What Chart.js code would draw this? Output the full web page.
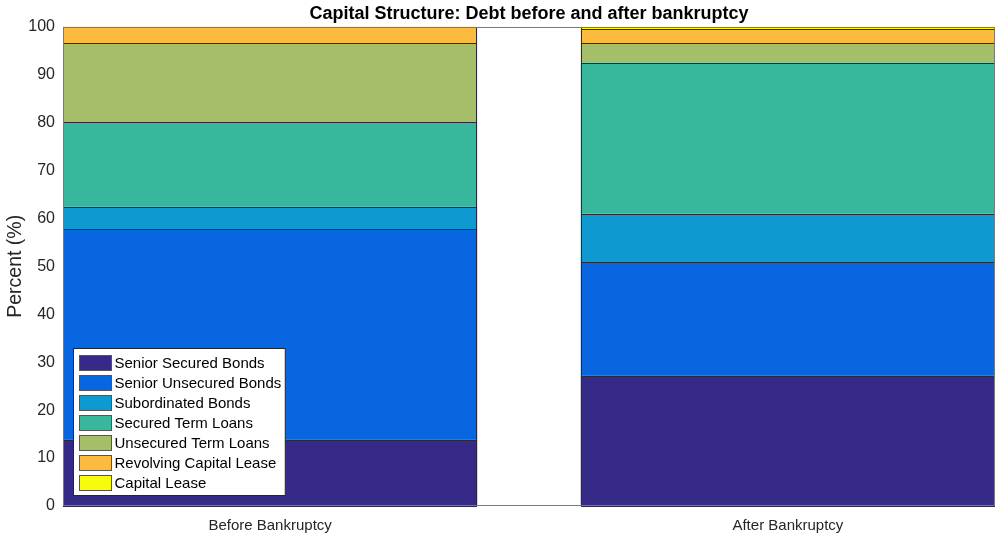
<!DOCTYPE html>
<html>
<head>
<meta charset="utf-8">
<script src="https://cdn.jsdelivr.net/npm/chart.js@4"></script>
<style>
  html, body { margin: 0; padding: 0; background: #fff; }
  #wrap { width: 997px; height: 536px; }
</style>
</head>
<body>
<div id="wrap"><canvas id="debtChart"></canvas></div>
<script>
  // capital structure, % of total debt, before vs after bankruptcy
  const periods = ["Before Bankruptcy", "After Bankruptcy"];
  const debtTypes = [
    "Senior Secured Bonds",
    "Senior Unsecured Bonds",
    "Subordinated Bonds",
    "Secured Term Loans",
    "Unsecured Term Loans",
    "Revolving Capital Lease",
    "Capital Lease",
  ];
  const seniorSecured   = [13.8, 27.2];
  const seniorUnsecured = [44.0, 23.6];
  const subordinated    = [4.6, 10.2];
  const securedTerm     = [17.7, 31.5];
  const unsecuredTerm   = [16.4, 4.0];
  const revolvingLease  = [3.5, 3.0];
  const capitalLease    = [0.0, 0.5];
  const yTicks = [0, 10, 20, 30, 40, 50, 60, 70, 80, 90, 100];

  const seriesValues = [seniorSecured, seniorUnsecured, subordinated, securedTerm,
    unsecuredTerm, revolvingLease, capitalLease];
  const colors = ["#352a87", "#0866e0", "#0f99d1", "#37b89d", "#a5be6a", "#fbbb3e", "#f9fb0e"];

  const FONT = "'Liberation Sans', Arial, Helvetica, sans-serif";
  const AXIS_COLOR = "#7a7a7a";
  const TEXT_COLOR = "#262626";
  const EDGE_COLOR = "#2a2a3c";

  // crisp 1px outline round every stacked segment (pixel-snapped, so joins look even)
  const segmentEdges = {
    id: "segmentEdges",
    afterDatasetsDraw(chart) {
      const { ctx } = chart;
      ctx.save();
      ctx.strokeStyle = EDGE_COLOR;
      ctx.lineWidth = 1;
      chart.data.datasets.forEach((ds, i) => {
        chart.getDatasetMeta(i).data.forEach((bar) => {
          const { x, y, base, width } = bar.getProps(["x", "y", "base", "width"], true);
          if (Math.abs(base - y) < 0.5) return;
          const left = Math.round(x - width / 2) + 0.5;
          const top = Math.round(y) + 0.5;
          ctx.strokeRect(left, top, Math.round(width) - 1, Math.round(base) - Math.round(y));
        });
      });
      ctx.restore();
    },
  };

  // box round the axes, like a closed plot frame
  const boxPlugin = {
    id: "axesBox",
    afterDatasetsDraw(chart) {
      const { ctx, chartArea: a } = chart;
      ctx.save();
      ctx.strokeStyle = AXIS_COLOR;
      ctx.lineWidth = 1;
      ctx.strokeRect(Math.round(a.left) + 0.5, Math.round(a.top) + 0.5,
        Math.round(a.right - a.left) - 1, Math.round(a.bottom - a.top) - 1);
      ctx.restore();
    },
  };

  // legend box sitting inside the lower left corner of the plot
  const insideLegend = {
    id: "insideLegend",
    afterDraw(chart) {
      const { ctx, chartArea: a } = chart;
      const rowH = 20, swW = 32, swH = 15, padX = 6, padY = 6, gap = 3;
      ctx.save();
      ctx.font = "15px " + FONT;
      const textW = Math.max(...debtTypes.map((t) => ctx.measureText(t).width));
      const boxW = padX + swW + gap + textW + 4;
      const boxH = padY * 2 + rowH * debtTypes.length - 5;
      const x0 = Math.round(a.left + 10) + 0.5;
      const y0 = Math.round(a.bottom - 11 - boxH) + 0.5;
      ctx.fillStyle = "#fff";
      ctx.fillRect(x0, y0, boxW, boxH);
      ctx.strokeStyle = "#262626";
      ctx.lineWidth = 1;
      ctx.strokeRect(x0, y0, boxW, boxH);
      ctx.textBaseline = "middle";
      debtTypes.forEach((name, i) => {
        const sy = Math.round(y0 + padY + i * rowH);
        ctx.fillStyle = colors[i];
        ctx.fillRect(x0 + padX, sy, swW, swH);
        ctx.strokeStyle = "#555";
        ctx.strokeRect(x0 + padX, sy + 0.5, swW, swH);
        ctx.fillStyle = "#000";
        ctx.fillText(name, x0 + padX + swW + gap, sy + swH / 2 + 1);
      });
      ctx.restore();
    },
  };

  const datasets = debtTypes.map((name, i) => ({
    label: name,
    data: seriesValues[i].map((v, j) => ({ x: j + 1, y: v })),
    backgroundColor: colors[i],
    borderWidth: 0,
    categoryPercentage: 1,
    barPercentage: 0.8,
  }));

  new Chart(document.getElementById("debtChart"), {
    type: "bar",
    data: { datasets },
    plugins: [segmentEdges, boxPlugin, insideLegend],
    options: {
      responsive: true,
      maintainAspectRatio: false,
      animation: false,
      layout: { padding: { left: 0, right: 2, top: 0, bottom: 0 } },
      scales: {
        x: {
          type: "linear",
          stacked: true,
          offset: false,
          min: 0.6,
          max: 2.4,
          grid: { display: false },
          border: { display: false },
          afterBuildTicks: (scale) => { scale.ticks = periods.map((p, i) => ({ value: i + 1 })); },
          afterFit: (scale) => { scale.height = 30; },
          ticks: {
            padding: 3,
            color: TEXT_COLOR,
            font: { family: FONT, size: 15 },
            callback: (v) => periods[Math.round(v) - 1] || "",
          },
        },
        y: {
          stacked: true,
          min: 0,
          max: 100,
          grid: { display: false },
          border: { display: false },
          afterBuildTicks: (scale) => { scale.ticks = yTicks.map((v) => ({ value: v })); },
          afterFit: (scale) => { scale.width = 63; },
          ticks: {
            padding: 0,
            color: TEXT_COLOR,
            font: { family: FONT, size: 16 },
          },
          title: {
            display: true,
            text: "Percent (%)",
            color: TEXT_COLOR,
            font: { family: FONT, size: 19.5 },
            padding: { top: 4, bottom: 0 },
          },
        },
      },
      plugins: {
        legend: { display: false },
        tooltip: { enabled: false },
        title: {
          display: true,
          fullSize: false,
          text: "Capital Structure: Debt before and after bankruptcy",
          color: "#000",
          font: { family: FONT, size: 18, weight: "bold" },
          padding: { top: 3, bottom: 2 },
        },
      },
    },
  });
</script>
</body>
</html>
